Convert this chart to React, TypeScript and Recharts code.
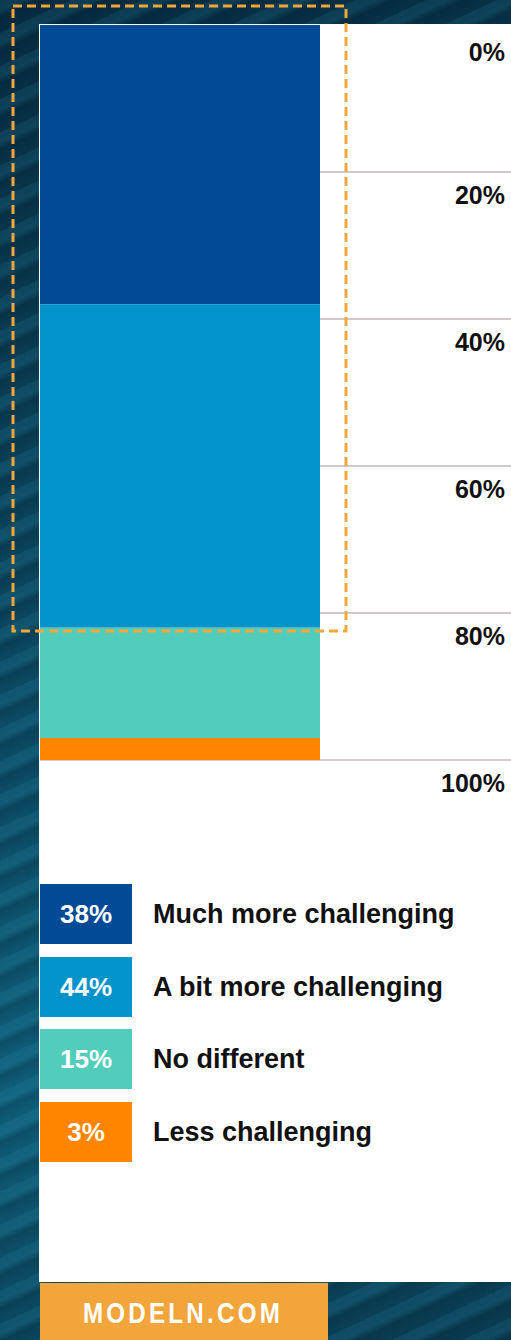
import React from 'react';
import { BarChart, Bar, XAxis, YAxis, CartesianGrid } from 'recharts';

const categories = ['Respondents'];
const seriesNames = ['Much more challenging', 'A bit more challenging', 'No different', 'Less challenging'];
const seriesKeys = ['much', 'bit', 'same', 'less'];
const muchMore = [38];
const bitMore = [44];
const noDifferent = [15];
const lessChallenging = [3];
const seriesColors = ['#014a96', '#0193c9', '#53cdbb', '#ff8400'];
const tickValues = [0, 20, 40, 60, 80, 100];
const gridValues = [20, 40, 60, 80, 100];
const footerText = 'MODELN.COM';

const chartData = categories.map((c, i) => ({
  name: c,
  much: muchMore[i],
  bit: bitMore[i],
  same: noDifferent[i],
  less: lessChallenging[i],
}));
const seriesValues = [muchMore[0], bitMore[0], noDifferent[0], lessChallenging[0]];

const FONT = '"Liberation Sans", Arial, Helvetica, sans-serif';

const RightTick = (props: any) => {
  const { y, payload } = props;
  const extra = payload.value === 0 ? 4 : 0;
  return (
    <text x={505} y={y + 32 + extra} textAnchor="end" fontFamily={FONT} fontWeight={700} fontSize={25} fill="#111">
      {payload.value}%
    </text>
  );
};

export default function App() {
  return (
    <div style={{ position: 'absolute', left: 0, top: 0, width: 511, height: 1340, overflow: 'hidden',
      background: 'linear-gradient(165deg, #062c42 0%, #0a4058 30%, #0c4f69 55%, #0f5f7a 75%, #093a50 100%)' }}>
      <div style={{ position: 'absolute', inset: 0,
        background: 'repeating-linear-gradient(155deg, rgba(60,170,200,0.10) 0px, rgba(60,170,200,0.14) 9px, rgba(0,20,30,0.18) 16px, rgba(0,20,30,0.0) 30px)' }} />
      <div style={{ position: 'absolute', left: 39, top: 24, width: 472, height: 1258, background: '#ffffff' }} />
      <div style={{ position: 'absolute', left: 0, top: 0 }}>
        <BarChart width={511} height={800} data={chartData} margin={{ top: 25, right: 0, bottom: 40, left: 40 }} barCategoryGap={0}>
          <CartesianGrid vertical={false} horizontal horizontalValues={gridValues} stroke="#cfc8cc" strokeWidth={2} />
          <XAxis dataKey="name" hide padding={{ left: 0, right: 191 }} />
          <YAxis orientation="right" mirror width={60} type="number" domain={[0, 100]} reversed ticks={tickValues}
            interval={0} axisLine={false} tickLine={false} tick={<RightTick />} />
          {seriesKeys.map((k, i) => (
            <Bar key={k} dataKey={k} name={seriesNames[i]} stackId="a" fill={seriesColors[i]} isAnimationActive={false} />
          ))}
        </BarChart>
      </div>
      <svg width={511} height={1340} style={{ position: 'absolute', left: 0, top: 0, pointerEvents: 'none' }}>
        <rect x={13} y={6} width={333} height={625} fill="none" stroke="#f3a63b" strokeWidth={3} strokeDasharray="9 5" />
        <rect x={40} y={1283} width={288} height={57} fill="#f2a53b" />
        <text x={83} y={1323} textLength={200} lengthAdjust="spacingAndGlyphs" letterSpacing={4}
          fontFamily={'"Liberation Sans Narrow", ' + FONT}
          fontWeight={700} fontSize={30} fill="#ffffff">{footerText}</text>
      </svg>
      {seriesNames.map((n, i) => (
        <div key={n} style={{ position: 'absolute', left: 40, top: 884 + i * 72.7, height: 60, width: 460 }}>
          <div style={{ position: 'absolute', left: 0, top: 0, width: 92, height: 60, background: seriesColors[i],
            color: '#fff', fontFamily: FONT, fontWeight: 700, fontSize: 26, lineHeight: '60px', textAlign: 'center' }}>
            {seriesValues[i]}%
          </div>
          <div style={{ position: 'absolute', left: 113, top: 0, height: 60, lineHeight: '60px', whiteSpace: 'nowrap',
            color: '#111', fontFamily: FONT, fontWeight: 700, fontSize: 27 }}>
            {n}
          </div>
        </div>
      ))}
    </div>
  );
}
